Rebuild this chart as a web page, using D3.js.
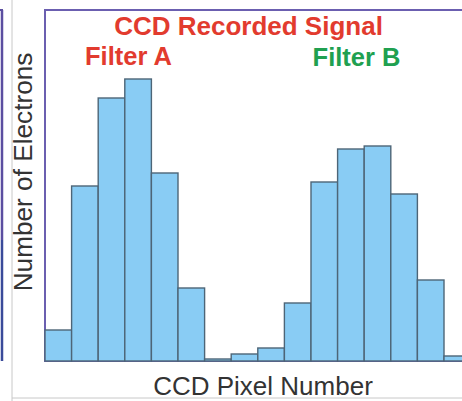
<!DOCTYPE html>
<html>
<head>
<meta charset="utf-8">
<script src="https://cdn.jsdelivr.net/npm/d3@7"></script>
<style>
  html, body { margin: 0; padding: 0; background: #fff; }
  svg { display: block; }
</style>
</head>
<body>
<svg id="chart" width="462" height="401"></svg>
<script>
// ---- data ----
const pixels = [1, 2, 3, 4, 5, 6, 7, 8, 9, 10, 11, 12, 13, 14, 15, 16];
const electrons = [31, 175, 263, 282, 188, 73, 2, 7, 13, 58, 179, 212, 215, 167, 81, 5];
const titleText = "CCD Recorded Signal";
const filterLabels = ["Filter A", "Filter B"];
const xLabel = "CCD Pixel Number";
const yLabel = "Number of Electrons";

(function () {
const svg = d3.select("#chart");
const font = "'Liberation Sans', Arial, Helvetica, sans-serif";

// decorations from neighbouring panel / page
svg.append("line").attr("x1", 2).attr("x2", 2).attr("y1", 10).attr("y2", 240)
  .attr("stroke", "#5b4ea0").attr("stroke-width", 2.5);
svg.append("line").attr("x1", 2).attr("x2", 2).attr("y1", 240).attr("y2", 361)
  .attr("stroke", "#3a4a9a").attr("stroke-width", 2.5);
svg.append("line").attr("x1", 0).attr("x2", 3).attr("y1", 10).attr("y2", 10)
  .attr("stroke", "#5b4ea0").attr("stroke-width", 2);
svg.append("line").attr("x1", 12).attr("x2", 12).attr("y1", 0).attr("y2", 401)
  .attr("stroke", "#c8c8c8").attr("stroke-width", 1);
svg.append("line").attr("x1", 12).attr("x2", 462).attr("y1", 398).attr("y2", 398)
  .attr("stroke", "#c8c8c8").attr("stroke-width", 1);

// plot area
const mLeft = 45, mTop = 10, mBottom = 361, barW = 26.6;
const x = d3.scaleBand().domain(pixels).range([mLeft, mLeft + barW * pixels.length]).padding(0);
const y = d3.scaleLinear().domain([0, 351]).range([mBottom, mTop]);

// frame
svg.append("rect").attr("x", mLeft).attr("y", mTop)
  .attr("width", 500).attr("height", mBottom - mTop)
  .attr("fill", "none").attr("stroke", "#6b5fb0").attr("stroke-width", 2);

// bars
svg.append("g").selectAll("rect").data(pixels).join("rect")
  .attr("x", d => x(d))
  .attr("y", (d, i) => y(electrons[i]))
  .attr("width", x.bandwidth())
  .attr("height", (d, i) => y(0) - y(electrons[i]))
  .attr("fill", "#89ccf4")
  .attr("stroke", "#4d6577")
  .attr("stroke-width", 1.4);

// titles
svg.append("text").attr("x", 248.5).attr("y", 35).attr("text-anchor", "middle")
  .attr("font-family", font).attr("font-weight", "bold").attr("font-size", 26)
  .attr("fill", "#e23b2e").text(titleText);
svg.append("text").attr("x", 128.5).attr("y", 65).attr("text-anchor", "middle")
  .attr("font-family", font).attr("font-weight", "bold").attr("font-size", 25.5)
  .attr("fill", "#e23b2e").text(filterLabels[0]);
svg.append("text").attr("x", 356.5).attr("y", 66).attr("text-anchor", "middle")
  .attr("font-family", font).attr("font-weight", "bold").attr("font-size", 25.5)
  .attr("fill", "#20a050").text(filterLabels[1]);

// axis labels
svg.append("text").attr("x", 263).attr("y", 394.5).attr("text-anchor", "middle")
  .attr("font-family", font).attr("font-size", 26)
  .attr("fill", "#333").text(xLabel);
svg.append("text")
  .attr("transform", "translate(32,172) rotate(-90)")
  .attr("text-anchor", "middle")
  .attr("font-family", font).attr("font-size", 26.2)
  .attr("fill", "#333").text(yLabel);
})();
</script>
</body>
</html>
